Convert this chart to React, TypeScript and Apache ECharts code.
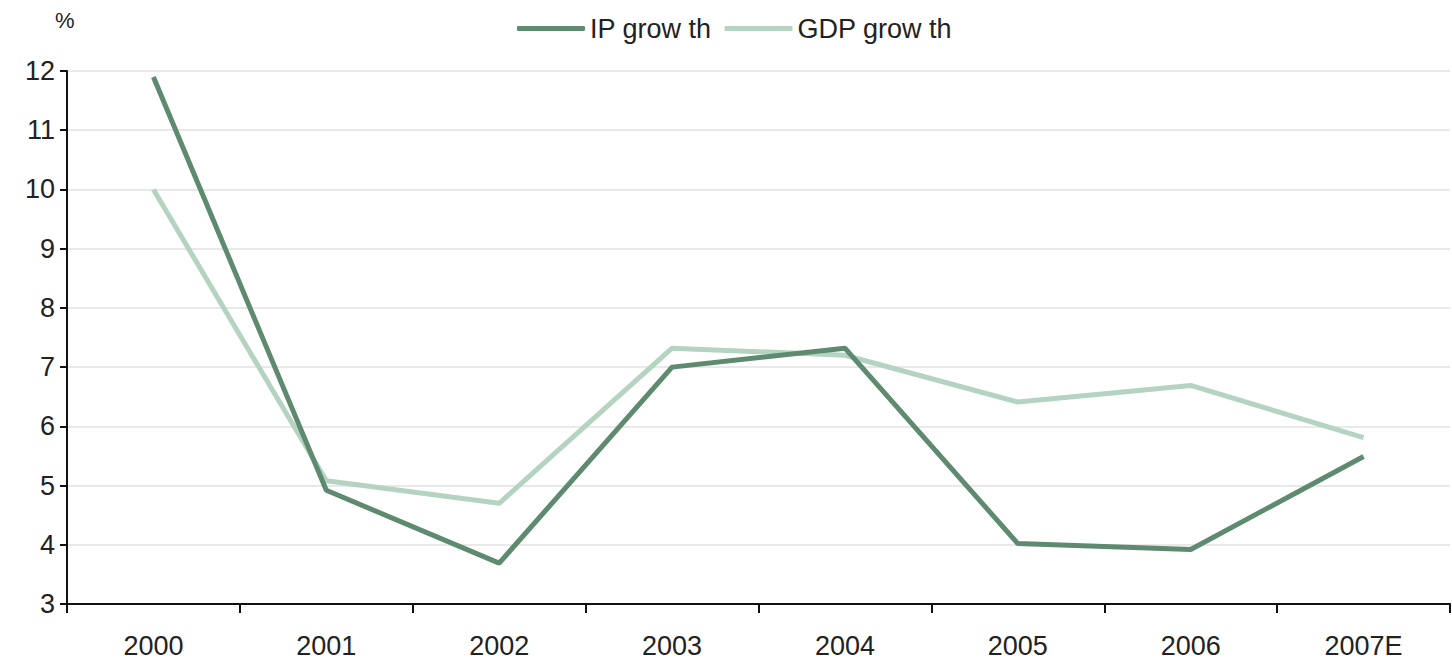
import React, { useEffect, useRef } from "react";
import * as echarts from "echarts";

const years = ["2000", "2001", "2002", "2003", "2004", "2005", "2006", "2007E"];
const ipGrowth = [11.9, 4.92, 3.69, 7.0, 7.32, 4.02, 3.92, 5.49];
const gdpGrowth = [10.0, 5.08, 4.7, 7.32, 7.2, 6.41, 6.69, 5.81];
const seriesNames = ["IP grow th", "GDP grow th"];

const IP_COLOR = "#5e8a70";
const GDP_COLOR = "#b4d3c1";
const FONT = "Liberation Sans, Arial, sans-serif";

export default function App() {
  const ref = useRef<HTMLDivElement>(null);

  useEffect(() => {
    if (!ref.current) return;
    const chart = echarts.init(ref.current, undefined, { renderer: "svg" });
    chart.setOption({
      animation: false,
      backgroundColor: "#ffffff",
      textStyle: { fontFamily: FONT },
      legend: {
        top: 10,
        left: 512,
        itemWidth: 68,
        itemHeight: 5,
        itemGap: 13,
        icon: "roundRect",
        textStyle: { fontSize: 27, color: "#222", fontFamily: FONT },
        data: seriesNames,
      },
      graphic: [
        {
          type: "text",
          left: 55,
          top: 9,
          style: { text: "%", fontSize: 22, fill: "#222", fontFamily: FONT },
        },
      ],
      grid: { left: 67, right: 2, top: 71, bottom: 65, containLabel: false },
      xAxis: {
        type: "category",
        data: years,
        boundaryGap: true,
        axisLine: { show: true, lineStyle: { color: "#111", width: 2 } },
        axisTick: { show: true, length: 9, alignWithLabel: false, lineStyle: { color: "#111", width: 2 } },
        axisLabel: { color: "#222", fontSize: 27, margin: 28, fontFamily: FONT },
        splitLine: { show: false },
      },
      yAxis: {
        type: "value",
        min: 3,
        max: 12,
        interval: 1,
        axisLine: { show: true, lineStyle: { color: "#111", width: 2 } },
        axisTick: { show: true, length: 7, lineStyle: { color: "#111", width: 2 } },
        axisLabel: { color: "#222", fontSize: 27, margin: 12, fontFamily: FONT },
        splitLine: { show: true, lineStyle: { color: "#e2e2e2", width: 1.5 } },
      },
      series: [
        {
          name: seriesNames[0],
          type: "line",
          data: ipGrowth,
          symbol: "none",
          z: 3,
          lineStyle: { color: IP_COLOR, width: 5 },
          itemStyle: { color: IP_COLOR },
        },
        {
          name: seriesNames[1],
          type: "line",
          data: gdpGrowth,
          symbol: "none",
          z: 2,
          lineStyle: { color: GDP_COLOR, width: 5 },
          itemStyle: { color: GDP_COLOR },
        },
      ],
    });
    return () => chart.dispose();
  }, []);

  return <div ref={ref} style={{ width: 1452, height: 669, position: "absolute", left: 0, top: 0 }} />;
}
